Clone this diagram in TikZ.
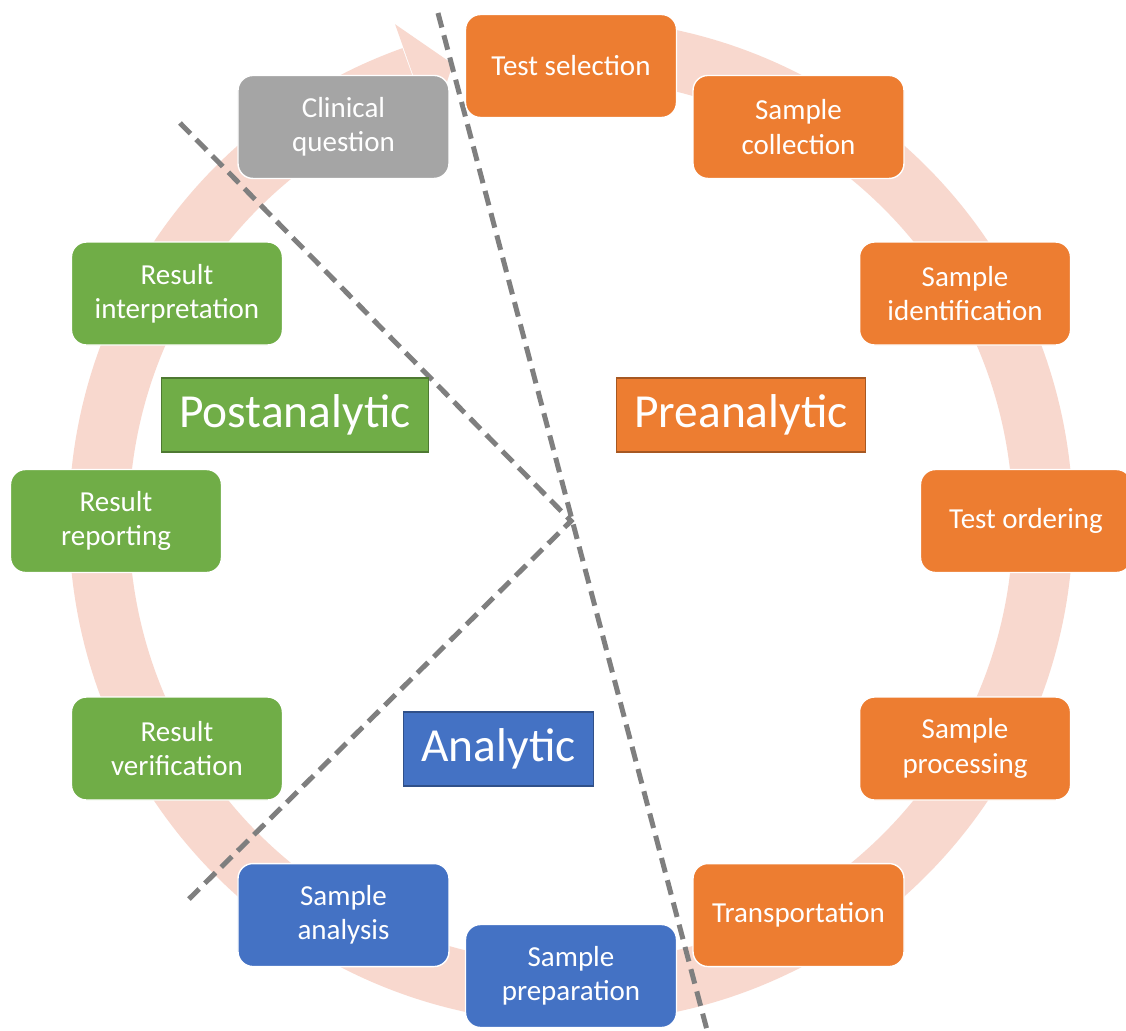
\documentclass[tikz,border=0pt]{standalone}
\usepackage{fontspec}
\setmainfont{Carlito}
\usetikzlibrary{positioning}
\definecolor{labgray}{HTML}{A5A5A5}
\definecolor{laborange}{HTML}{ED7D31}
\definecolor{labblue}{HTML}{4472C4}
\definecolor{labgreen}{HTML}{70AD47}
\definecolor{ringpink}{HTML}{F8D8CE}
\definecolor{cutgray}{HTML}{7F7F7F}
\tikzset{
  stepbox/.style={rectangle, rounded corners=0.3cm, minimum width=4.22cm, minimum height=2.06cm, align=center, draw=white, line width=0.8pt, text=white, font=\fontsize{16.5}{19.5}\selectfont},
  phase/.style={rectangle, minimum height=1.48cm, inner xsep=0.36cm, text=white, line width=0.8pt, font=\fontsize{27}{32}\selectfont},
  cut/.style={draw=cutgray, line width=0.1cm, dash pattern=on 0.3cm off 0.16cm},
  ring/.style={draw=ringpink, line width=1.2cm},
}

\begin{document}
\begin{tikzpicture}
  \useasboundingbox[fill=white] (-11.42,-10.18) rectangle (11.10,10.42);
  \draw[ring] (97:9.44) arc[start angle=97, end angle=-250.4, radius=9.44];
  \fill[ringpink] (109.5:8.34) -- (109.5:10.54) -- (104.5:9.44) -- cycle;
  \coordinate (hub) at (0,0);
  \coordinate (topcut) at (-2.66,10.16);
  \coordinate (botcut) at (2.72,-10.18);
  \coordinate (postcut) at (-7.82,7.96);
  \coordinate (anacut) at (-7.64,-7.56);
  \draw[cut] (topcut) -- (botcut);
  \draw[cut] (postcut) -- (hub) -- (anacut);
  \node[stepbox,fill=labgray] (question) at (120:9.1) {Clinical\\question};
  \node[stepbox,fill=laborange] (selection) at (90:9.1) {Test selection};
  \node[stepbox,fill=laborange] (collection) at (60:9.1) {Sample\\collection};
  \node[stepbox,fill=laborange] (ident) at (30:9.1) {Sample\\identification};
  \node[stepbox,fill=laborange] (ordering) at (0:9.1) {Test ordering};
  \node[stepbox,fill=laborange] (processing) at (-30:9.1) {Sample\\processing};
  \node[stepbox,fill=laborange] (transport) at (-60:9.1) {Transportation};
  \node[stepbox,fill=labblue] (preparation) at (-90:9.1) {Sample\\preparation};
  \node[stepbox,fill=labblue] (analysis) at (-120:9.1) {Sample\\analysis};
  \node[stepbox,fill=labgreen] (verification) at (-150:9.1) {Result\\verification};
  \node[stepbox,fill=labgreen] (reporting) at (180:9.1) {Result\\reporting};
  \node[stepbox,fill=labgreen] (interp) at (150:9.1) {Result\\interpretation};
  \node[phase,fill=labgreen,draw=labgreen!70!black] (post) at (-5.52,2.12) {Postanalytic};
  \node[phase,fill=laborange,draw=laborange!70!black] (pre) at (3.4,2.12) {Preanalytic};
  \node[phase,fill=labblue,draw=labblue!70!black] (ana) at (-1.45,-4.56) {Analytic};
\end{tikzpicture}
\end{document}
